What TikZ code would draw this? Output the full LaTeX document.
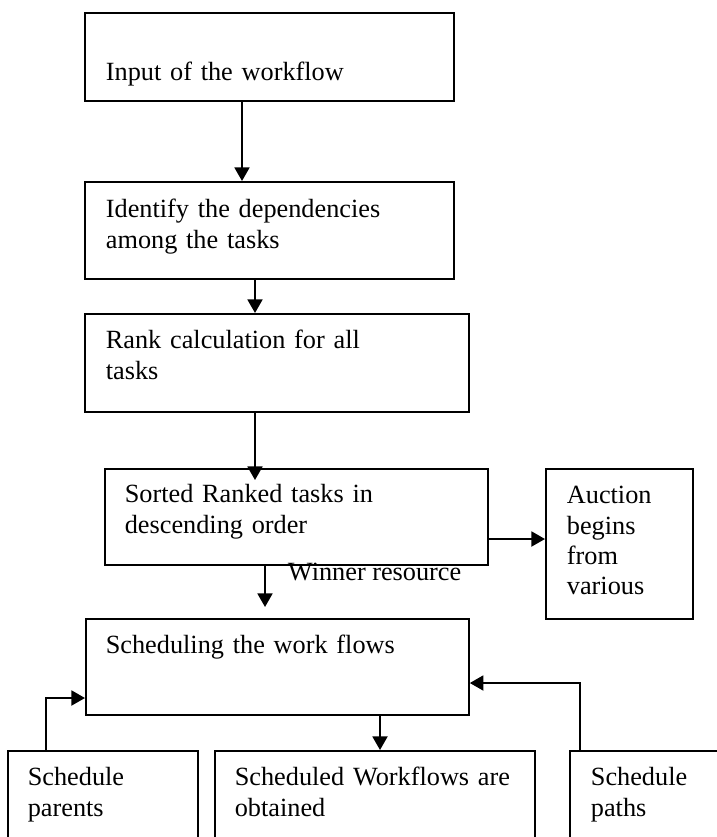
\documentclass[tikz,border=0pt]{standalone}
\usepackage{fontspec}
\setmainfont{Liberation Serif}
\usetikzlibrary{arrows.meta}

\begin{document}
\begin{tikzpicture}[x=0.4566pt, y=-0.4566pt, >={Triangle[width=6.8pt,length=6.2pt]},
    box/.style={draw, line width=0.8pt, anchor=north west, align=left, inner ysep=0pt, inner xsep=9.6pt, font=\fontsize{12}{13.8}\selectfont},
    flow/.style={->, line width=1pt}]
    \clip (0,0) rectangle (717,837);
    % =========================
    \node[box, text width=149.3pt, text height=31.0pt, text depth=9.1pt] (input) at (84,12) {Input of the workflow};
    \node[box, text width=149.3pt, text height=16.4pt, text depth=27.9pt] (deps) at (84,181) {Identify the dependencies\\among the tasks};
    \node[box, text width=156.1pt, text height=16.0pt, text depth=28.8pt] (rank) at (84,313) {Rank calculation for all\\tasks};
    \node[box, inner xsep=9.1pt, text width=156.7pt, text height=15.5pt, text depth=28.3pt] (sorted) at (104,468) {Sorted Ranked tasks in\\descending order};
    \node[box, text width=47.9pt, text height=16.0pt, text depth=52.5pt] (auction) at (545,468) {Auction\\begins\\from\\various};
    \node[box, inner xsep=9.1pt, text width=156.7pt, text height=16.0pt, text depth=27.9pt] (sched) at (85,618) {Scheduling the work flows};
    % ===============================
    \node[box, inner xsep=9.1pt, text width=68.6pt, text height=16.0pt, text depth=34.2pt] (parents) at (7,750) {Schedule\\parents};
    \node[box, inner xsep=9.1pt, text width=128.0pt, text height=16.0pt, text depth=34.2pt] (obtained) at (214,750) {Scheduled Workflows are\\obtained};
    \node[box, text width=63.0pt, text height=16.0pt, text depth=34.2pt] (paths) at (569,750) {Schedule\\paths};
    % ===============================
    \foreach \a/\b/\x in {input/deps/242, deps/rank/255}
        \draw[flow] (\a.south -| \x,0) -- (\b.north -| \x,0);
    \draw[flow, shorten >=-5.5pt] (rank.south -| 255,0) -- (sorted.north -| 255,0);
    \draw[flow] (sorted.east |- 0,539) -- (auction.west |- 0,539);
    \coordinate (win) at (265,607);
    \draw[flow] (sorted.south -| win) -- (win) node[pos=0.37, anchor=base west, inner sep=0pt, xshift=10pt, font=\fontsize{12}{13.8}\selectfont]{Winner resource};
    \draw[flow] (sched.south -| 380,0) -- (obtained.north -| 380,0);
    \draw[flow] (parents.north -| 46,0) |- (sched.west |- 0,698);
    \draw[flow] (paths.north -| 580,0) |- (sched.east |- 0,683);
\end{tikzpicture}
\end{document}
